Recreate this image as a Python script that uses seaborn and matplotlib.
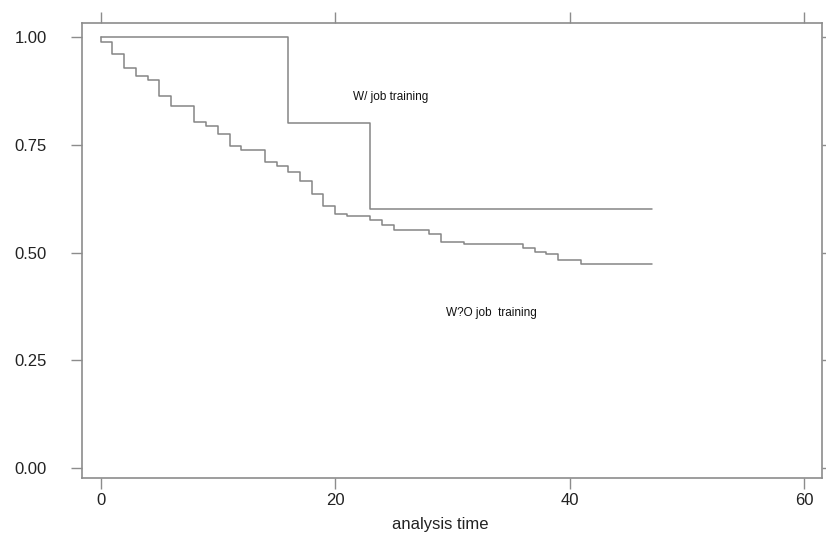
import matplotlib
matplotlib.use("Agg")
import matplotlib.pyplot as plt
import seaborn as sns
import pandas as pd

# Kaplan-Meier survival estimates (step functions)
time_with = [0, 16, 23, 47]
surv_with = [1.00, 0.80, 0.60, 0.60]

time_without = [0, 0, 1, 2, 3, 4, 5, 6, 8, 9, 10, 11, 12, 14, 15, 16, 17, 18, 19,
                20, 21, 23, 24, 25, 28, 29, 31, 36, 37, 38, 39, 41, 47]
surv_without = [1.00, 0.988, 0.961, 0.929, 0.909, 0.900, 0.863, 0.840, 0.803, 0.793,
                0.775, 0.747, 0.738, 0.711, 0.702, 0.688, 0.665, 0.637, 0.608, 0.589,
                0.586, 0.575, 0.563, 0.552, 0.544, 0.525, 0.520, 0.511, 0.502, 0.497,
                0.482, 0.473, 0.473]

x_ticks = [0, 20, 40, 60]
y_ticks = [0.00, 0.25, 0.50, 0.75, 1.00]
y_ticklabels = ["0.00", "0.25", "0.50", "0.75", "1.00"]
label_with = "W/ job training"
label_without = "W?O job  training"
x_label = "analysis time"

sns.set_theme(style="white")
plt.rcParams['font.family'] = ['Liberation Sans', 'DejaVu Sans']

fig = plt.figure(figsize=(8.26, 5.33), dpi=100)
ax = fig.add_axes([0.0987, 0.1032, 0.9949 - 0.0987, 0.9563 - 0.1032])

df_with = pd.DataFrame({"t": time_with, "s": surv_with})
df_without = pd.DataFrame({"t": time_without, "s": surv_without})

line_color = "#858585"
sns.lineplot(data=df_with, x="t", y="s", ax=ax, estimator=None, sort=False,
             drawstyle="steps-post", color=line_color, linewidth=1.1)
sns.lineplot(data=df_without, x="t", y="s", ax=ax, estimator=None, sort=False,
             drawstyle="steps-post", color=line_color, linewidth=1.1)

ax.set_xlim(-1.63, 61.5)
ax.set_ylim(-0.023, 1.032)
ax.set_xticks(x_ticks)
ax.set_yticks(y_ticks)
ax.set_yticklabels(y_ticklabels)

for sp in ax.spines.values():
    sp.set_visible(True)
    sp.set_color("#8c8c8c")
    sp.set_linewidth(1.2)

ax.tick_params(axis="both", which="both", direction="out", length=8, width=1.0,
               color="#8c8c8c", labelsize=12, labelcolor="#222222",
               top=True, right=True, bottom=True, left=True,
               labeltop=False, labelright=False)
ax.tick_params(axis="x", pad=3)
ax.tick_params(axis="y", pad=17)

ax.set_xlabel(x_label, fontsize=12, color="#222222", labelpad=2)
ax.xaxis.set_label_coords(0.485, -0.085)
ax.set_ylabel("")

ax.text(24.7, 0.861, label_with, fontsize=8.5, color="#111111", ha="center", va="center")
ax.text(33.3, 0.360, label_without, fontsize=8.5, color="#111111", ha="center", va="center")

ax.grid(False)
fig.savefig("out.png", dpi=100, facecolor="white")
